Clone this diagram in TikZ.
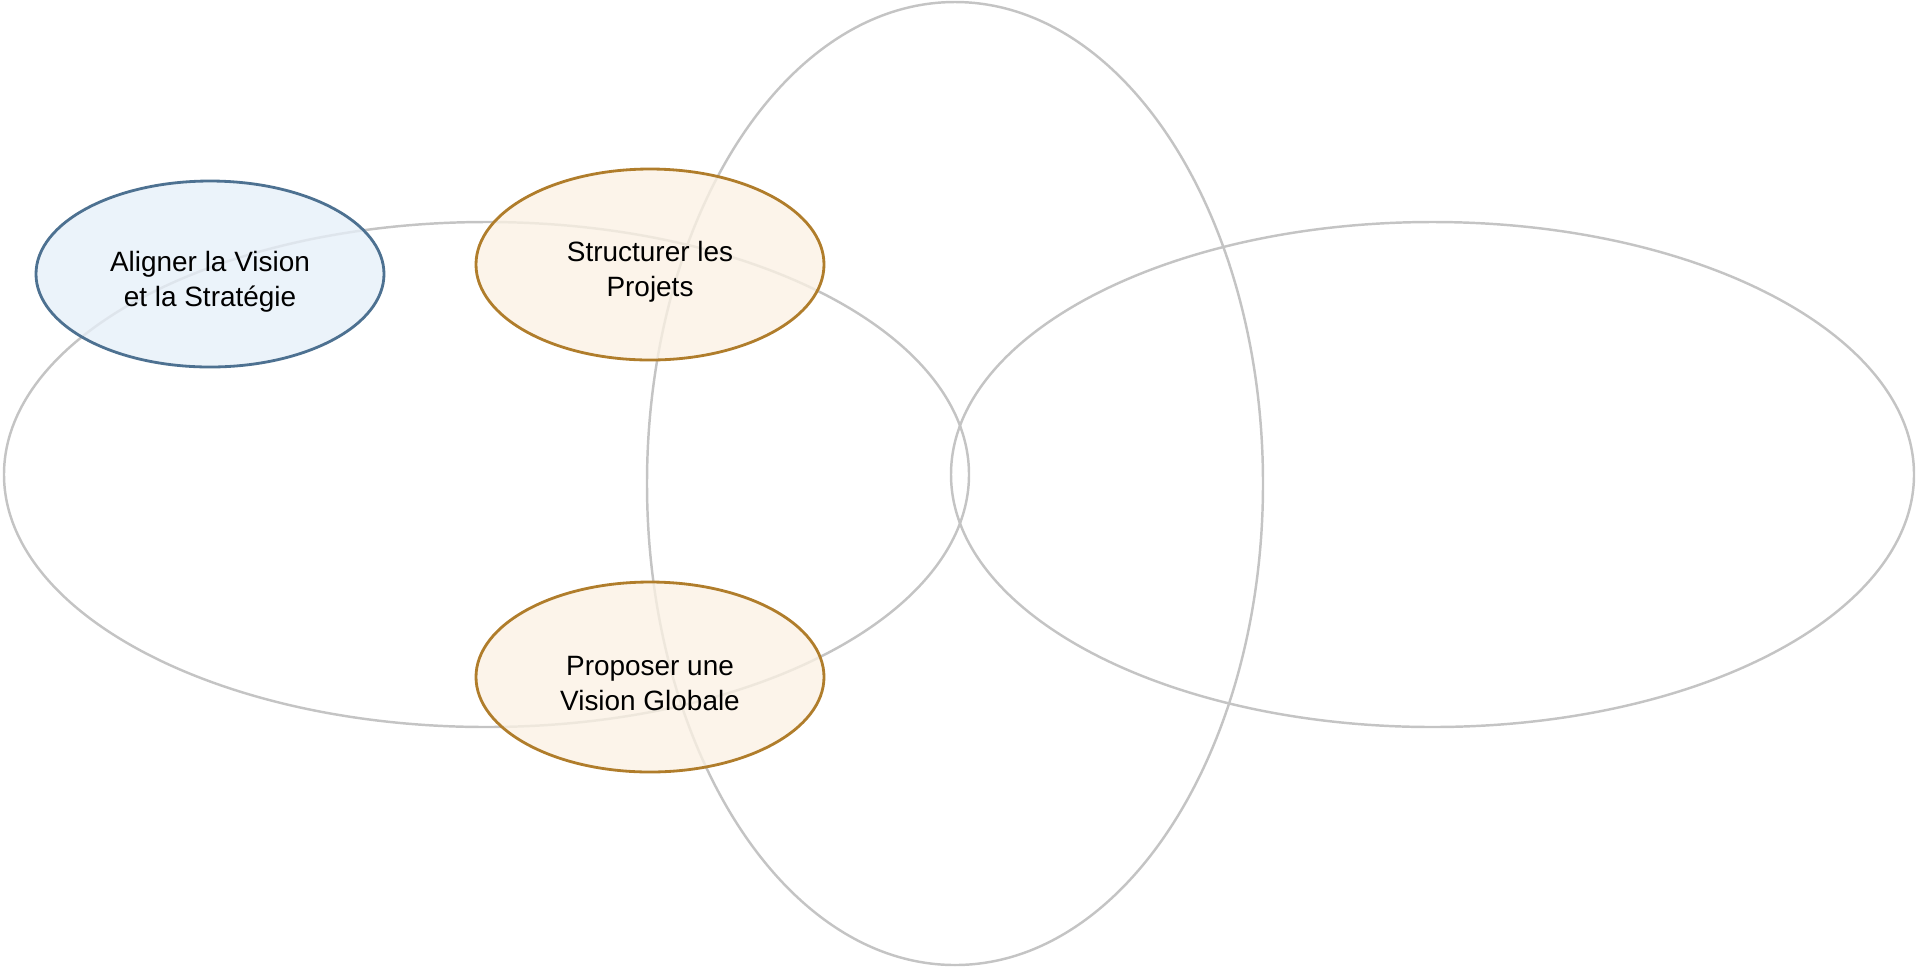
\documentclass[tikz,border=0pt]{standalone}
\usepackage{fontspec}
\setmainfont{Liberation Sans}
\usepackage{tikz}
\usetikzlibrary{shapes.geometric}
\definecolor{ringgray}{HTML}{C4C4C4}
\definecolor{visionblue}{HTML}{4D7191}
\definecolor{visionfill}{HTML}{E6EFF8}
\definecolor{projbrown}{HTML}{B07D2B}
\definecolor{projfill}{HTML}{FBF1E4}

\begin{document}
\begin{tikzpicture}[every node/.style={font=\fontsize{7.95}{10}\selectfont,align=center},ring/.style={ellipse,draw=ringgray,line width=.7pt,inner sep=0pt},goal/.style={ellipse,line width=.8pt,inner sep=0pt,minimum width=3.48cm,fill opacity=.78,text opacity=1}]
\useasboundingbox (0,0) rectangle (19.19,-9.69);
\node[ring,minimum width=9.65cm,minimum height=5.05cm] (left) at (4.865,-4.745) {};
\node[ring,minimum width=6.16cm,minimum height=9.63cm] (mid) at (9.55,-4.835) {};
\node[ring,minimum width=9.63cm,minimum height=5.05cm] (right) at (14.325,-4.745) {};
\node[goal,draw=visionblue,fill=visionfill,minimum height=1.86cm] (align) at (2.10,-2.74) {\rule{0pt}{10pt}Aligner la Vision\\et la Strat\'egie};
\node[goal,draw=projbrown,fill=projfill,minimum height=1.91cm] (struct) at (6.50,-2.645) {\rule{0pt}{10pt}Structurer les\\Projets};
\node[goal,draw=projbrown,fill=projfill,minimum height=1.90cm] (propose) at (6.50,-6.77) {\rule{0pt}{9pt}Proposer une\\Vision Globale};
\end{tikzpicture}
\end{document}
